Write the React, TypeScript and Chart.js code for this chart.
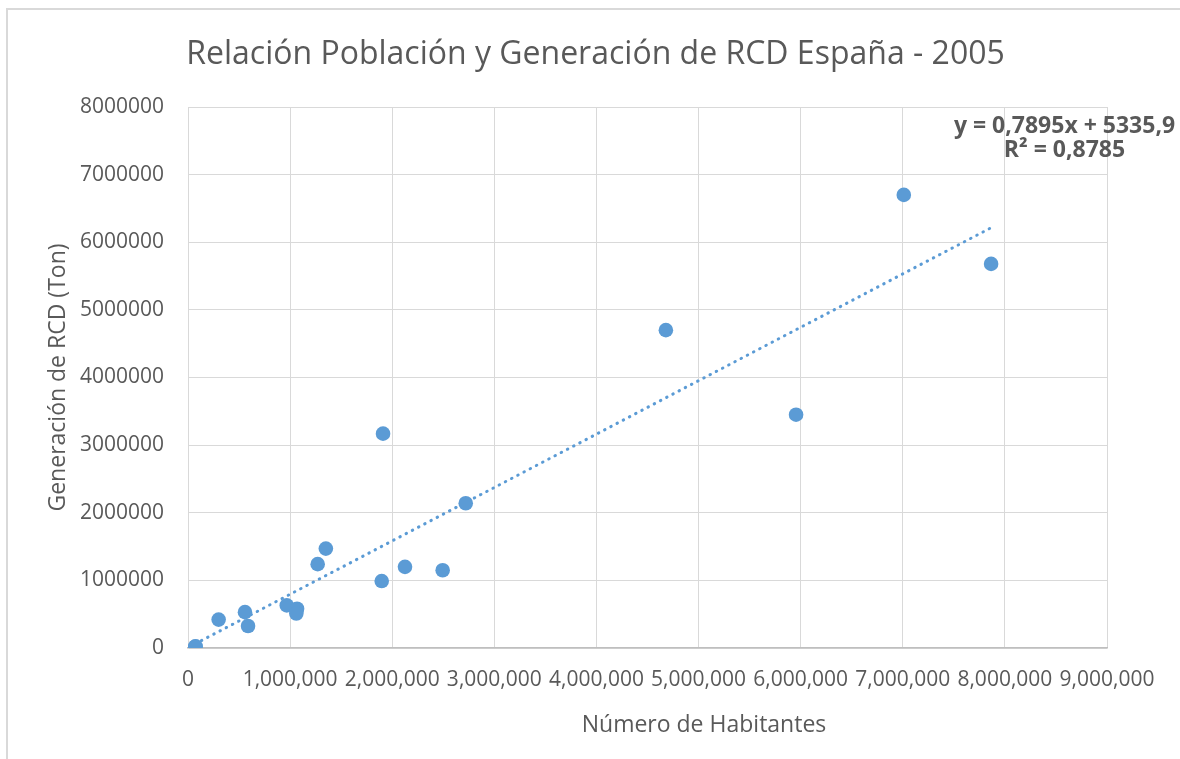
import React, { useEffect, useRef } from "react";
import { Chart, registerables } from "chart.js";

Chart.register(...registerables);

// ---- Data ----
const chartTitle = "Relación Población y Generación de RCD España - 2005";
const xAxisTitle = "Número de Habitantes";
const yAxisTitle = "Generación de RCD (Ton)";

const habitantes = [
  70000, 75000, 300000, 558000, 588000, 967000, 1068000, 1061000, 1270000,
  1350000, 1897000, 1910000, 2125000, 2494000, 2720000, 4680000, 5955000,
  7010000, 7865000,
];
const rcdToneladas = [
  20000, 25000, 420000, 530000, 325000, 630000, 580000, 510000, 1240000,
  1470000, 990000, 3170000, 1200000, 1150000, 2140000, 4700000, 3450000,
  6700000, 5680000,
];

const trendSlope = 0.7895;
const trendIntercept = 5335.9;
const equationLabel = "y = 0,7895x + 5335,9";
const r2Label = "R² = 0,8785";

const xMin = 0;
const xMax = 9000000;
const yMin = 0;
const yMax = 8000000;
const tickStep = 1000000;

const BLUE = "#5B9BD5";
const TEXT = "#595959";
const GRID = "#D9D9D9";
const FONT = "'Open Sans', sans-serif";

const decorPlugin = {
  id: "decor",
  beforeDraw(chart: any) {
    const ctx = chart.ctx;
    ctx.save();
    ctx.fillStyle = "#FFFFFF";
    ctx.fillRect(0, 0, chart.width, chart.height);
    ctx.strokeStyle = GRID;
    ctx.lineWidth = 2;
    ctx.strokeRect(7, 9, chart.width + 50, chart.height + 50);
    ctx.restore();
  },
  afterDraw(chart: any) {
    const ctx = chart.ctx;
    const area = chart.chartArea;
    ctx.save();
    ctx.fillStyle = TEXT;
    ctx.textAlign = "center";
    ctx.textBaseline = "alphabetic";
    // chart title
    ctx.font = `32px ${FONT}`;
    ctx.fillText(chartTitle, 595.5, 64);
    // x axis title
    ctx.font = `23px ${FONT}`;
    ctx.fillText(xAxisTitle, 704, 732);
    // regression label
    ctx.font = `bold 23px ${FONT}`;
    const cx = area.right - 42.5;
    ctx.fillText(equationLabel, cx, area.top + 26);
    ctx.fillText(r2Label, cx, area.top + 50);
    ctx.restore();
  },
};

export default function App() {
  const canvasRef = useRef<HTMLCanvasElement | null>(null);

  useEffect(() => {
    const canvas = canvasRef.current;
    if (!canvas) return;

    const points = habitantes.map((x, i) => ({ x, y: rcdToneladas[i] }));
    const minX = Math.min(...habitantes);
    const maxX = Math.max(...habitantes);
    const trend = [
      { x: minX, y: trendSlope * minX + trendIntercept },
      { x: maxX, y: trendSlope * maxX + trendIntercept },
    ];

    const chart = new Chart(canvas, {
      type: "scatter",
      data: {
        datasets: [
          {
            label: "Lineal",
            type: "line",
            data: trend,
            borderColor: BLUE,
            borderWidth: 3,
            borderDash: [0.5, 6.5],
            borderCapStyle: "round",
            pointRadius: 0,
            fill: false,
            order: 2,
          } as any,
          {
            label: "RCD",
            data: points,
            backgroundColor: BLUE,
            borderColor: BLUE,
            borderWidth: 0,
            pointRadius: 7.3,
            pointHoverRadius: 7.3,
            order: 1,
          },
        ],
      },
      options: {
        responsive: false,
        animation: false,
        devicePixelRatio: 1,
        layout: { padding: { top: 107, right: 73, bottom: 0, left: 0 } },
        plugins: {
          legend: { display: false },
          title: { display: false },
          tooltip: { enabled: false },
        },
        scales: {
          x: {
            type: "linear",
            min: xMin,
            max: xMax,
            afterFit: (scale: any) => {
              scale.height = 111;
            },
            ticks: {
              stepSize: tickStep,
              autoSkip: false,
              maxRotation: 0,
              minRotation: 0,
              padding: 19,
              color: TEXT,
              font: { family: FONT, size: 21 },
              callback: (v: any) => Number(v).toLocaleString("en-US"),
            },
            grid: { color: GRID, lineWidth: 1, drawTicks: false },
            border: { color: "#BFBFBF", width: 1.5 },
          },
          y: {
            type: "linear",
            min: yMin,
            max: yMax,
            afterFit: (scale: any) => {
              scale.width = 188;
            },
            ticks: {
              stepSize: tickStep,
              padding: 24,
              color: TEXT,
              font: { family: FONT, size: 21 },
              callback: (v: any) => String(v),
            },
            grid: { color: GRID, lineWidth: 1, drawTicks: false },
            border: { color: GRID, width: 1 },
            title: {
              display: true,
              text: yAxisTitle,
              color: TEXT,
              font: { family: FONT, size: 23 },
              padding: { top: 45, bottom: 0 },
            },
          },
        },
      },
      plugins: [decorPlugin],
    });

    return () => chart.destroy();
  }, []);

  return (
    <div
      style={{
        position: "fixed",
        left: 0,
        top: 0,
        width: 1180,
        height: 759,
        background: "#fff",
      }}
    >
      <canvas ref={canvasRef} width={1180} height={759} />
    </div>
  );
}
